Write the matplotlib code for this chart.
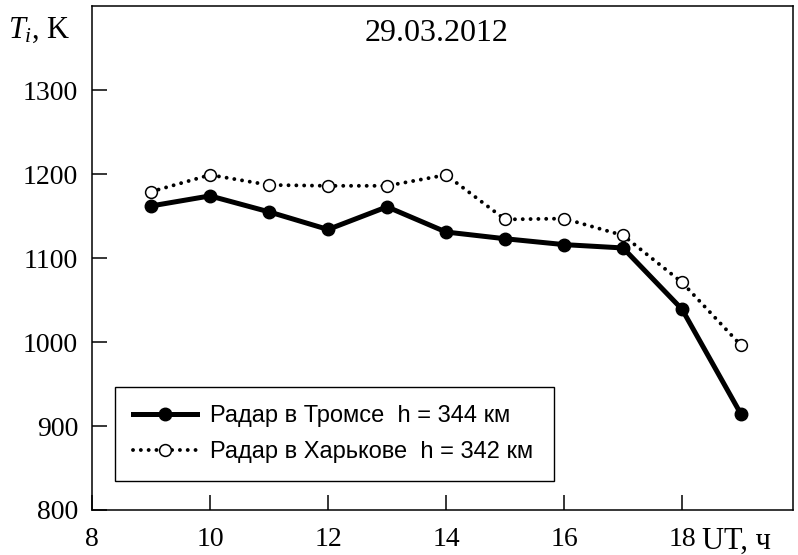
import matplotlib
matplotlib.use('Agg')
import matplotlib.pyplot as plt

# UT hours
hours = [9, 10, 11, 12, 13, 14, 15, 16, 17, 18, 19]
# ion temperature, K
tromso = [1162, 1174, 1155, 1134, 1161, 1131, 1123, 1116, 1112, 1039, 914]
kharkiv = [1179, 1199, 1187, 1186, 1186, 1199, 1146, 1147, 1127, 1071, 996]

x_ticks = [8, 10, 12, 14, 16, 18]
y_ticks = [800, 900, 1000, 1100, 1200, 1300]

plt.rcParams['font.family'] = 'Liberation Serif'
plt.rcParams['mathtext.fontset'] = 'custom'
plt.rcParams['mathtext.rm'] = 'Liberation Serif'
plt.rcParams['mathtext.it'] = 'Liberation Serif:italic'

fig = plt.figure(figsize=(7.98, 5.55), dpi=100)
ax = fig.add_axes([0.1153, 0.0811, 0.8784, 0.9079])

ax.plot(hours, tromso, '-', color='black', lw=3.6, marker='o', ms=9,
        label='Радар в Тромсе  h = 344 км')
ax.plot(hours, kharkiv, color='black', lw=2.8, linestyle=(0, (0.01, 2.0)),
        dash_capstyle='round', marker='o', ms=8.5, mfc='white',
        mec='black', mew=1.1, label='Радар в Харькове  h = 342 км')

ax.set_xlim(8, 19.88)
ax.set_ylim(800, 1400)
ax.set_xticks(x_ticks)
ax.set_yticks(y_ticks)
ax.tick_params(direction='in', length=11, width=1.1, labelsize=20,
               top=False, right=False)
ax.tick_params(axis='x', pad=12)
ax.tick_params(axis='y', pad=10)
for s in ax.spines.values():
    s.set_linewidth(1.1)

ax.text(0.491, 0.945, '29.03.2012', transform=ax.transAxes, ha='center',
        va='center', fontsize=23)
fig.text(0.010, 0.945, '$T_i$, K', ha='left', va='center', fontsize=22)
ax.text(0.870, -0.077, 'UT, ч', transform=ax.transAxes, ha='left',
        va='baseline', fontsize=22)

leg = ax.legend(loc='lower left', bbox_to_anchor=(0.033, 0.058, 0.626, 0.1),
                mode='expand', borderaxespad=0, fancybox=False, framealpha=1,
                edgecolor='black', numpoints=1, handlelength=2.7,
                handletextpad=0.55, labelspacing=0.6, borderpad=0.75,
                prop={'family': 'Liberation Sans', 'size': 17})
leg.get_frame().set_linewidth(1.0)

fig.savefig('out.png', dpi=100)
